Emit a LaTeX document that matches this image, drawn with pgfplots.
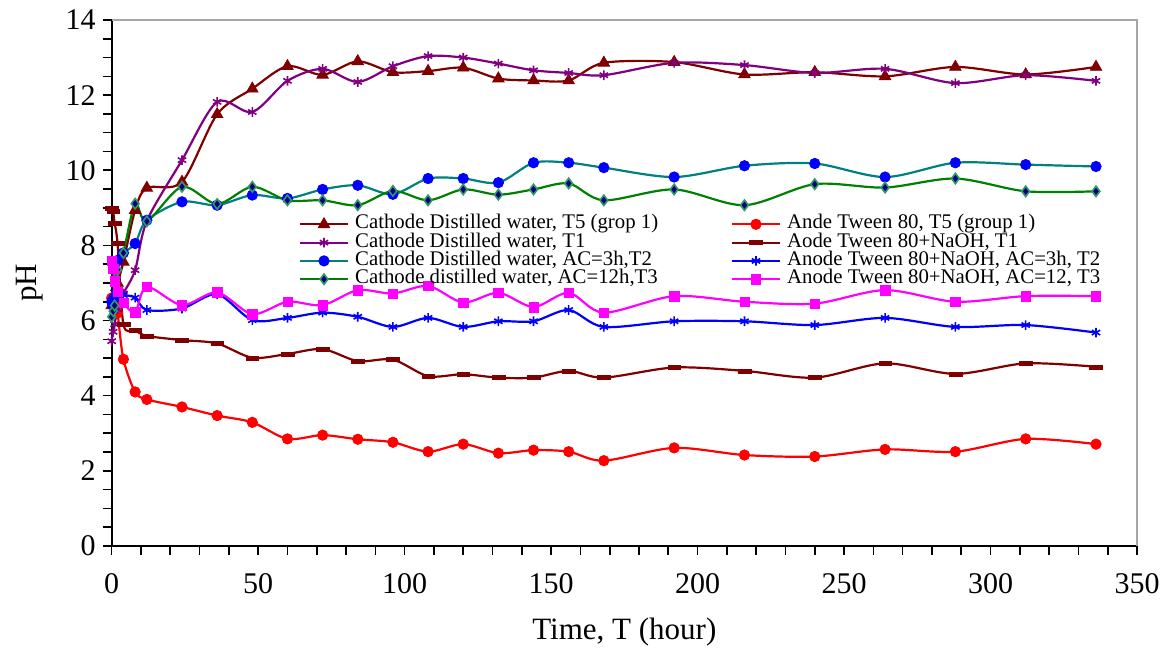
\documentclass[border=0pt]{standalone}
\usepackage{fontspec}
\setmainfont{Liberation Serif}
\usepackage{pgfplots}
\pgfplotsset{compat=1.18}
\definecolor{cDR}{RGB}{128,0,0}
\definecolor{cPU}{RGB}{128,0,128}
\definecolor{cTE}{RGB}{0,128,128}
\definecolor{cGR}{RGB}{0,128,0}
\definecolor{cNV}{RGB}{0,0,128}
\definecolor{cBL}{RGB}{0,0,255}
\definecolor{cRD}{RGB}{255,0,0}
\definecolor{cMG}{RGB}{255,0,255}
\definecolor{cSG}{RGB}{51,153,102}
\begin{document}
\begin{tikzpicture}
\path[use as bounding box] (-55.85pt,-53.5pt) rectangle (527.2pt,273pt);
\begin{axis}[
  name=ax,
  scale only axis, width=512.7pt, height=263pt,
  xmin=0, xmax=350, ymin=0, ymax=14,
  xtick distance=50, ytick distance=2,
  minor x tick num=4, minor y tick num=3,
  tick align=outside, major tick length=4.5pt, minor tick length=4.5pt,
  axis x line*=bottom, axis y line*=left,
  x axis line style={-}, y axis line style={-},
  axis line style={line width=1pt, black},
  every tick/.style={black, line width=0.8pt},
  tick label style={font=\fontsize{15}{15}\selectfont},
  /pgf/number format/assume math mode=true,
  xticklabel style={yshift=-6pt},
  label style={font=\fontsize{15.5}{15.5}\selectfont},
  xlabel={Time, T (hour)}, ylabel={pH},
  xlabel style={at={(axis description cs:0.5,-0.1635)}, anchor=center},
  ylabel style={at={(axis description cs:-0.0797,0.5)}, anchor=center},
  clip=false,
  every axis plot/.append style={line width=1.1pt, smooth},
  legend columns=2, legend cell align=left,
  legend style={draw=none, fill=none, at={(0.1827,0.6289)}, anchor=north west,
    inner sep=0pt, outer sep=0pt, font=\fontsize{10.4}{10.4}\selectfont,
    nodes={inner sep=0.4pt, text height=6.5pt, text depth=1.85pt},
    /tikz/every odd column/.append style={column sep=2.7pt},
    /tikz/every even column/.append style={column sep=36pt}},
  legend image code/.code={\draw[mark repeat=2,mark phase=2] plot coordinates {(0cm,0cm) (0.42cm,0cm) (0.84cm,0cm)};},
]
% Cathode Distilled water, T5
\addplot[color=cDR, mark=triangle*, mark size=3.3pt, mark options={solid, fill=cDR, draw=cDR, line width=0.4pt}] coordinates {
(0,6.4) (0.5,6.5) (1,6.7) (2,7.0) (4,7.56) (8,8.94) (12,9.53) (24,9.69) (36,11.49) (48,12.17) (60,12.77) (72,12.54) (84,12.9) (96,12.61) (108,12.64) (120,12.73) (132,12.44) (144,12.39) (156,12.39) (168,12.86) (192,12.88) (216,12.55) (240,12.61) (264,12.5) (288,12.75) (312,12.55) (336,12.75)};
\addlegendentry{Cathode Distilled water, T5 (grop 1)}
% Ande Tween 80, T5
\addplot[color=cRD, mark=*, mark size=2.6pt, mark options={solid, fill=cRD, draw=cRD, line width=0.4pt}] coordinates {
(0,6.6) (0.5,6.5) (1,6.4) (2,6.2) (4,4.97) (8,4.1) (12,3.9) (24,3.7) (36,3.47) (48,3.29) (60,2.85) (72,2.95) (84,2.84) (96,2.76) (108,2.51) (120,2.71) (132,2.47) (144,2.55) (156,2.51) (168,2.27) (192,2.61) (216,2.42) (240,2.38) (264,2.57) (288,2.51) (312,2.85) (336,2.71)};
\addlegendentry{Ande Tween 80, T5 (group 1)}
% Cathode Distilled water, T1
\addplot[color=cPU, mark=asterisk, mark size=2.4pt, mark options={solid, draw=cPU, line width=0.8pt}] coordinates {
(0,5.45) (0.5,5.7) (1,5.9) (2,6.3) (4,6.72) (8,7.34) (12,8.65) (24,10.27) (36,11.82) (48,11.55) (60,12.38) (72,12.7) (84,12.35) (96,12.77) (108,13.04) (120,13.0) (132,12.84) (144,12.66) (156,12.59) (168,12.53) (192,12.86) (216,12.8) (240,12.59) (264,12.7) (288,12.32) (312,12.53) (336,12.38)};
\addlegendentry{Cathode Distilled water, T1}
% Aode Tween 80+NaOH, T1
\addplot[color=cDR, mark=square*, mark size=2.35pt, mark options={solid, fill=cDR, draw=cDR, line width=0.2pt, xscale=1.35, yscale=0.42}] coordinates {
(0,9.0) (0.5,8.9) (1,8.6) (2,8.05) (4,5.9) (8,5.74) (12,5.59) (24,5.48) (36,5.39) (48,5.01) (60,5.11) (72,5.24) (84,4.92) (96,4.96) (108,4.52) (120,4.57) (132,4.48) (144,4.48) (156,4.66) (168,4.48) (192,4.75) (216,4.66) (240,4.48) (264,4.86) (288,4.58) (312,4.86) (336,4.77)};
\addlegendentry{Aode Tween 80+NaOH, T1}
% Cathode Distilled water, AC=3h,T2
\addplot[color=cTE, mark=*, mark size=2.6pt, mark options={solid, fill=cBL, draw=cBL, line width=0.4pt}] coordinates {
(0,6.5) (0.5,6.4) (1,6.6) (2,7.6) (4,7.8) (8,8.05) (12,8.67) (24,9.16) (36,9.07) (48,9.34) (60,9.25) (72,9.49) (84,9.6) (96,9.36) (108,9.78) (120,9.78) (132,9.67) (144,10.2) (156,10.2) (168,10.07) (192,9.82) (216,10.12) (240,10.18) (264,9.82) (288,10.2) (312,10.15) (336,10.1)};
\addlegendentry{Cathode Distilled water, AC=3h,T2}
% Anode Tween 80+NaOH, AC=3h, T2
\addplot[color=cBL, mark=asterisk, mark size=2.4pt, mark options={solid, draw=cBL, line width=0.8pt}] coordinates {
(0,6.5) (0.5,6.6) (1,6.75) (2,6.7) (4,6.68) (8,6.61) (12,6.28) (24,6.32) (36,6.7) (48,6.01) (60,6.07) (72,6.21) (84,6.1) (96,5.83) (108,6.07) (120,5.83) (132,5.98) (144,5.98) (156,6.28) (168,5.83) (192,5.98) (216,5.98) (240,5.88) (264,6.07) (288,5.83) (312,5.88) (336,5.68)};
\addlegendentry{Anode Tween 80+NaOH, AC=3h, T2}
% Cathode distilled water, AC=12h,T3
\addplot[color=cGR, mark=diamond*, mark size=2.6pt, mark options={solid, fill=cNV, draw=cSG, line width=0.8pt}] coordinates {
(0,6.1) (0.5,6.25) (1,6.4) (2,7.35) (4,7.8) (8,9.11) (12,8.64) (24,9.56) (36,9.1) (48,9.56) (60,9.2) (72,9.2) (84,9.07) (96,9.45) (108,9.2) (120,9.49) (132,9.35) (144,9.49) (156,9.65) (168,9.2) (192,9.49) (216,9.07) (240,9.63) (264,9.54) (288,9.78) (312,9.44) (336,9.44)};
\addlegendentry{Cathode distilled water, AC=12h,T3}
% Anode Tween 80+NaOH, AC=12, T3
\addplot[color=cMG, mark=square*, mark size=2.35pt, mark options={solid, fill=cMG, draw=cMG, line width=0.2pt}] coordinates {
(0,7.6) (0.5,7.38) (1,7.05) (2,6.76) (4,6.47) (8,6.22) (12,6.9) (24,6.41) (36,6.75) (48,6.17) (60,6.5) (72,6.41) (84,6.81) (96,6.72) (108,6.92) (120,6.48) (132,6.74) (144,6.36) (156,6.74) (168,6.21) (192,6.65) (216,6.5) (240,6.45) (264,6.81) (288,6.5) (312,6.65) (336,6.65)};
\addlegendentry{Anode Tween 80+NaOH, AC=12, T3}
\draw[gray!70, line width=0.8pt] (rel axis cs:0,1) -- (rel axis cs:1,1) -- (rel axis cs:1,0);
\end{axis}
\end{tikzpicture}
\end{document}
